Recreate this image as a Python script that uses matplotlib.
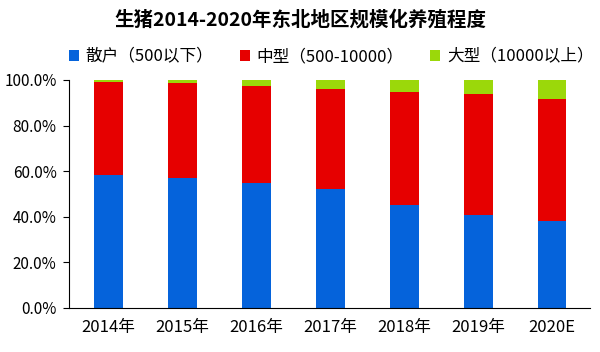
import numpy as np
import matplotlib
matplotlib.use("Agg")
import matplotlib.pyplot as plt
from matplotlib.ticker import PercentFormatter

plt.rcParams['font.family'] = ['Noto Sans CJK SC', 'DejaVu Sans']

years = ["2014年", "2015年", "2016年", "2017年", "2018年", "2019年", "2020E"]
small = [58.3, 57.0, 54.7, 52.0, 45.2, 40.9, 38.0]    # 散户
medium = [40.6, 41.5, 42.7, 43.9, 49.5, 52.8, 53.7]   # 中型
large = [1.1, 1.5, 2.6, 4.1, 5.3, 6.3, 8.3]           # 大型
labels = ["散户（500以下）", "中型（500-10000）", "大型（10000以上）"]
colors = ["#0563DB", "#E60000", "#9BD80A"]

fig = plt.figure(figsize=(6, 3.52), dpi=100)
ax = fig.add_axes([0.115, 0.125, 0.868, 0.648])

x = np.arange(len(years))
w = 0.39
s = np.array(small) / 100
m = np.array(medium) / 100
l = np.array(large) / 100
ax.bar(x, s, w, color=colors[0], label=labels[0])
ax.bar(x, m, w, bottom=s, color=colors[1], label=labels[1])
ax.bar(x, l, w, bottom=s + m, color=colors[2], label=labels[2])

ax.set_xlim(-0.53, 6.51)
ax.set_ylim(0, 1)
ax.set_yticks(np.arange(0, 1.01, 0.2))
ax.yaxis.set_major_formatter(PercentFormatter(1.0, decimals=1))
ax.set_xticks(x)
ax.set_xticklabels(years)
ax.tick_params(axis='x', length=0, pad=8, labelsize=12)
ax.tick_params(axis='y', length=4, pad=5, labelsize=11)
for side in ["top", "right"]:
    ax.spines[side].set_visible(False)
ax.spines["left"].set_color("black")
ax.spines["bottom"].set_color("black")

fig.text(0.5, 0.945, "生猪2014-2020年东北地区规模化养殖程度", ha="center", va="center",
         fontsize=14, fontweight="bold")
fig.legend(loc="center", bbox_to_anchor=(0.552, 0.838), ncol=3, frameon=False,
           fontsize=12, handlelength=0.6, handleheight=0.6, handletextpad=0.4,
           columnspacing=1.6)

fig.savefig("out.png", dpi=100)
